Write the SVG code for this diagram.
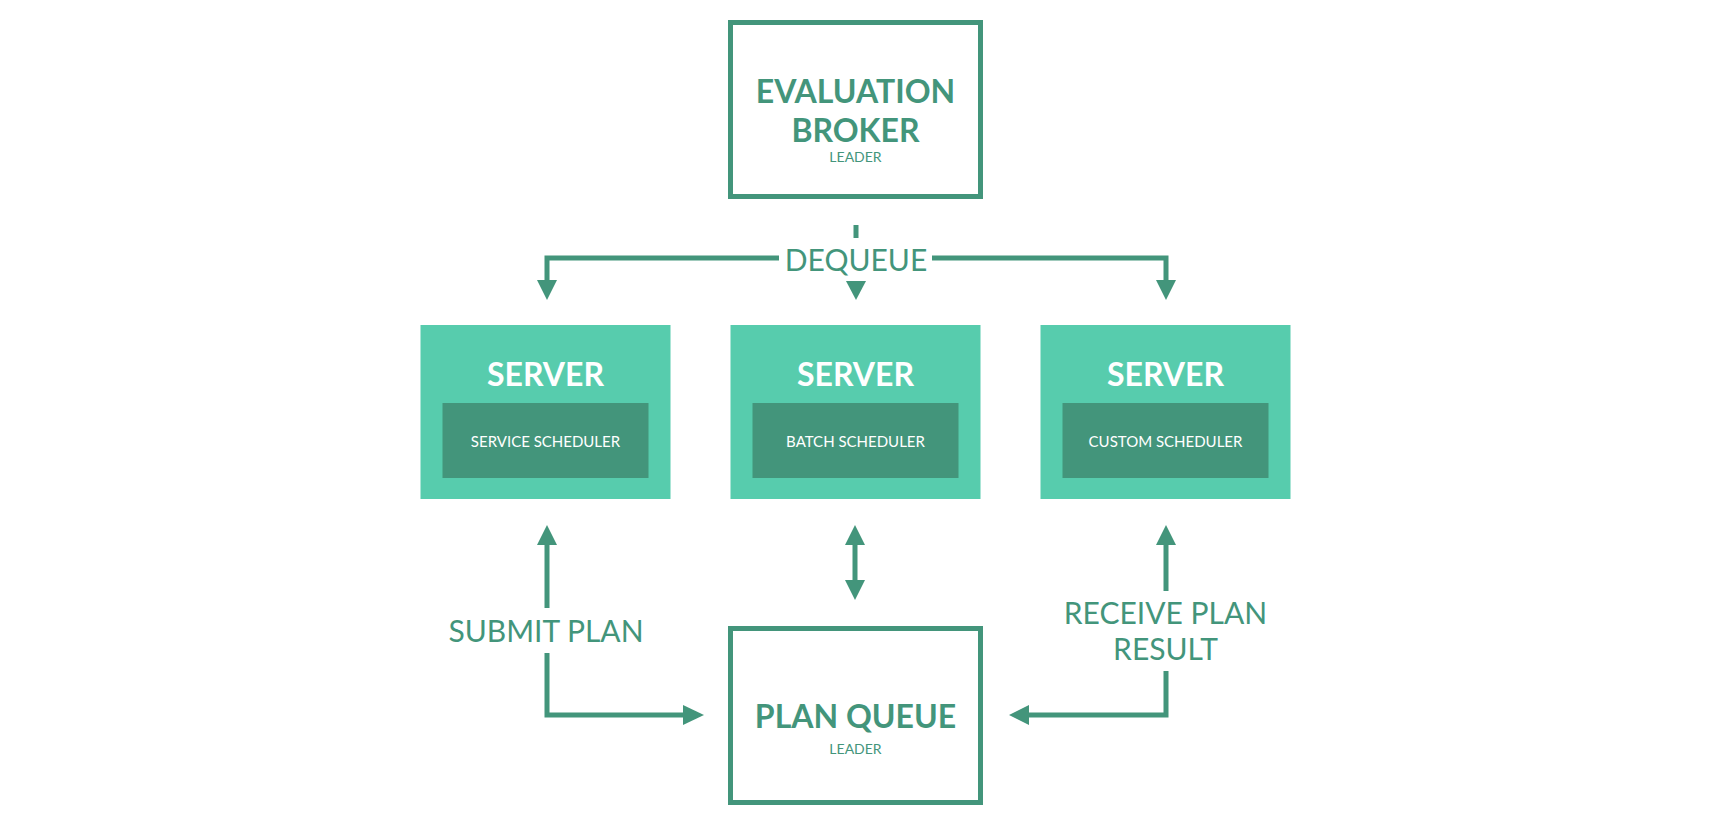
<svg xmlns="http://www.w3.org/2000/svg" width="1710" height="827" viewBox="0 0 1710 827">
<style>
.bg{fill:#ffffff}
.outline{fill:none;stroke:#43957b;stroke-width:5}
.server{fill:#57ccad}
.inner{fill:#43957b}
.line{fill:none;stroke:#43957b;stroke-width:5}
.head{fill:#43957b}
.t{font-family:Lato,"Liberation Sans",sans-serif;text-anchor:middle}
.big{font-size:32px;font-weight:bold;fill:#43957b}
.small{font-size:14px;fill:#43957b}
.lbl{font-size:30px;fill:#43957b}
.srv{font-size:32px;font-weight:bold;fill:#ffffff}
.sch{font-size:15px;fill:#ffffff}
</style>
<rect class="bg" x="0" y="0" width="1710" height="827"/>
<g id="evaluation-broker">
<rect class="outline" x="730.5" y="22.5" width="250" height="174"/>
<text class="t big" x="855.5" y="103">EVALUATION</text>
<text class="t big" x="855.5" y="142">BROKER</text>
<text class="t small" x="855.5" y="162">LEADER</text>
</g>
<g id="server-service">
<rect class="server" x="420.5" y="325" width="250" height="174"/>
<rect class="inner" x="442.5" y="403" width="206" height="75"/>
<text class="t srv" x="545.5" y="386">SERVER</text>
<text class="t sch" x="545.5" y="447">SERVICE SCHEDULER</text>
</g>
<g id="server-batch">
<rect class="server" x="730.5" y="325" width="250" height="174"/>
<rect class="inner" x="752.5" y="403" width="206" height="75"/>
<text class="t srv" x="855.5" y="386">SERVER</text>
<text class="t sch" x="855.5" y="447">BATCH SCHEDULER</text>
</g>
<g id="server-custom">
<rect class="server" x="1040.5" y="325" width="250" height="174"/>
<rect class="inner" x="1062.5" y="403" width="206" height="75"/>
<text class="t srv" x="1165.5" y="386">SERVER</text>
<text class="t sch" x="1165.5" y="447">CUSTOM SCHEDULER</text>
</g>
<g id="plan-queue">
<rect class="outline" x="730.5" y="628.5" width="250" height="174"/>
<text class="t big" x="855.5" y="728">PLAN QUEUE</text>
<text class="t small" x="855.5" y="754">LEADER</text>
</g>
<g id="connectors">
<line class="line" x1="856" y1="225" x2="856" y2="238"/>
<polyline class="line" points="779,258 547,258 547,282"/>
<polygon class="head" points="537,280 557,280 547,300"/>
<polyline class="line" points="932,258 1166,258 1166,282"/>
<polygon class="head" points="1156,280 1176,280 1166,300"/>
<polygon class="head" points="846,281 866,281 856,300"/>
<text class="t lbl" x="856" y="271">DEQUEUE</text>
<polygon class="head" points="547,525 557,545 537,545"/>
<line class="line" x1="547" y1="543" x2="547" y2="608"/>
<text class="t lbl" x="546" y="642">SUBMIT PLAN</text>
<polyline class="line" points="547,653 547,715 685,715"/>
<polygon class="head" points="683,705 704,715 683,725"/>
<polygon class="head" points="855,525 865,545 845,545"/>
<line class="line" x1="855" y1="543" x2="855" y2="582"/>
<polygon class="head" points="845,580 865,580 855,600"/>
<polygon class="head" points="1166,525 1176,545 1156,545"/>
<line class="line" x1="1166" y1="543" x2="1166" y2="591"/>
<text class="t lbl" x="1165.5" y="624">RECEIVE PLAN</text>
<text class="t lbl" x="1165.5" y="660">RESULT</text>
<polyline class="line" points="1166,671 1166,715 1027,715"/>
<polygon class="head" points="1029,705 1009,715 1029,725"/>
</g>
</svg>
